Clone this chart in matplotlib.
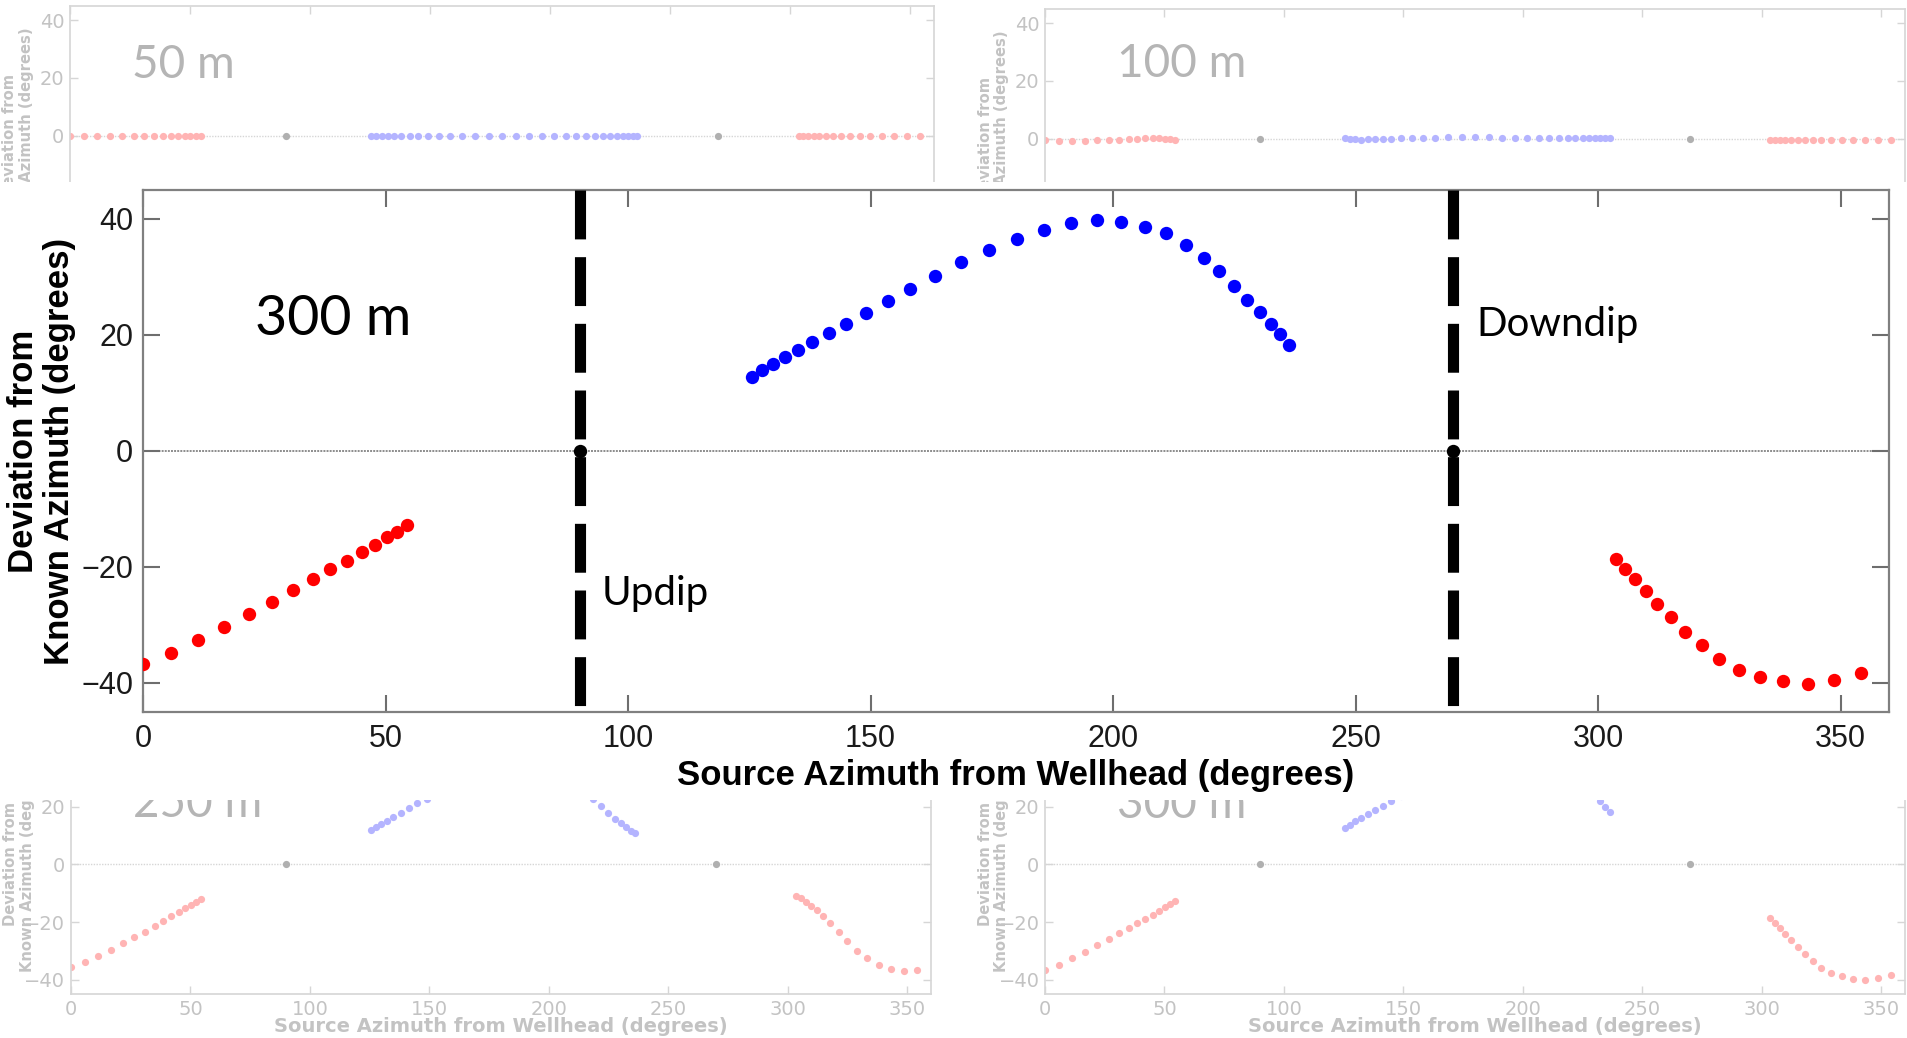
import matplotlib
matplotlib.use("Agg")
import matplotlib.pyplot as plt
from matplotlib.patches import Rectangle

# ==== Source azimuths (degrees from wellhead) ====
az_red_left = [0.0, 5.7, 11.3, 16.7, 21.8, 26.6, 30.9, 35.0, 38.6, 42.0, 45.1, 47.8, 50.2, 52.4, 54.5]
az_blue = [125.5, 127.7, 129.9, 132.3, 135.0, 138.0, 141.5, 145.0, 149.0, 153.6,
           158.2, 163.2, 168.7, 174.4, 180.1, 185.8, 191.3, 196.7, 201.7, 206.6,
           211.0, 215.0, 218.7, 221.9, 225.0, 227.7, 230.2, 232.5, 234.5, 236.3]
az_red_right = [303.6, 305.6, 307.6, 309.8, 312.2, 315.0, 317.9, 321.4, 324.9, 329.1,
                333.4, 338.2, 343.3, 348.6, 354.3]
az_ref = [90, 270]
dev_ref = [0, 0]

# ==== Deviation from known azimuth per receiver depth ====
dev50_red_left = [0.0, 0.0, 0.0, 0.0, 0.0, 0.0, 0.0, 0.0, 0.0, 0.0, 0.0, 0.0, 0.0, 0.0, 0.0]
dev50_blue = [0.0, 0.0, 0.0, 0.0, 0.0, 0.0, 0.0, 0.0, 0.0, 0.0, 0.0, 0.0, 0.0, 0.0, 0.0,
              0.0, 0.0, 0.0, 0.0, 0.0, 0.0, 0.0, 0.0, 0.0, 0.0, 0.0, 0.0, 0.0, 0.0, 0.0]
dev50_red_right = [0.0, 0.0, 0.0, 0.0, 0.0, 0.0, 0.0, 0.0, 0.0, 0.0, 0.0, 0.0, 0.0, 0.0, 0.0]

dev100_red_left = [-0.6, -0.7, -0.7, -0.7, -0.6, -0.5, -0.35, -0.25, 0.0, 0.1, 0.1, 0.1, 0.0, -0.1, -0.5]
dev100_blue = [0.2, 0.0, -0.25, -0.35, -0.25, -0.25, -0.1, 0.0, 0.25, 0.25, 0.35, 0.35, 0.45, 0.45, 0.6,
               0.5, 0.35, 0.35, 0.25, 0.25, 0.25, 0.25, 0.25, 0.25, 0.25, 0.25, 0.25, 0.25, 0.25, 0.25]
dev100_red_right = [-0.4, -0.4, -0.4, -0.4, -0.4, -0.4, -0.4, -0.4, -0.4, -0.5, -0.5, -0.5, -0.5, -0.5, -0.5]

dev250_red_left = [-35.5, -33.8, -31.9, -29.8, -27.4, -25.3, -23.3, -21.4, -19.5, -17.9,
                   -16.4, -15.1, -14.0, -12.9, -12.0]
dev250_blue = [12.0, 12.9, 14.0, 15.1, 16.4, 18.0, 19.5, 21.3, 22.9, 25.0,
               27.2, 29.3, 31.2, 32.6, 33.4, 33.5, 33.0, 31.8, 30.2, 28.4,
               26.6, 24.7, 22.7, 20.3, 18.0, 15.9, 14.3, 12.9, 11.7, 10.8]
dev250_red_right = [-10.9, -11.7, -12.9, -14.3, -15.9, -18.0, -20.5, -23.4, -26.5, -29.9,
                    -32.6, -34.9, -36.4, -37.0, -36.6]

dev300_red_left = [-36.8, -34.8, -32.6, -30.3, -28.1, -26.0, -23.9, -22.1, -20.3, -18.9,
                   -17.5, -16.2, -14.9, -13.9, -12.8]
dev300_blue = [12.8, 13.9, 15.0, 16.2, 17.4, 18.8, 20.3, 21.9, 23.8, 25.8,
               28.0, 30.2, 32.5, 34.6, 36.6, 38.1, 39.3, 39.8, 39.4, 38.6,
               37.5, 35.5, 33.2, 31.0, 28.4, 26.1, 24.0, 21.9, 20.1, 18.3]
dev300_red_right = [-18.6, -20.3, -22.1, -24.1, -26.3, -28.6, -31.2, -33.4, -35.8, -37.7,
                    -38.9, -39.7, -40.2, -39.5, -38.3]

x_ticks = [0, 50, 100, 150, 200, 250, 300, 350]
y_ticks = [-40, -20, 0, 20, 40]

XLABEL = "Source Azimuth from Wellhead (degrees)"
YLABEL = "Deviation from\nKnown Azimuth (degrees)"

FADE = "#c3c3c3"
NARROW = ["Liberation Sans Narrow", "DejaVu Sans"]


# ==== Small pale panel for one depth ====
def faded_panel(fig, rect, red_left, blue, red_right, label, label_xy):
    ax = fig.add_axes(rect)
    ax.set_zorder(0)
    ax.axhline(0, color="#d6d6d6", lw=1.0, ls=(0, (1, 1)), zorder=1)
    ax.plot(az_red_left, red_left, "o", color="#ffb4b4", ms=5.2, mec="none", zorder=2)
    ax.plot(az_blue, blue, "o", color="#b4b4ff", ms=5.2, mec="none", zorder=2)
    ax.plot(az_red_right, red_right, "o", color="#ffb4b4", ms=5.2, mec="none", zorder=2)
    ax.plot(az_ref, dev_ref, "o", color="#b0b0b0", ms=5.2, mec="none", zorder=2)
    ax.text(label_xy[0], label_xy[1], label, fontsize=33, family="Lato",
            color="#b5b5b5", va="baseline", ha="left")
    ax.set_xlim(0, 360)
    ax.set_ylim(-45, 45)
    ax.set_xticks(x_ticks)
    ax.set_yticks(y_ticks)
    ax.tick_params(direction="in", top=True, right=True, length=6, width=1,
                   color="#d6d6d6", labelcolor=FADE, labelsize=14, pad=4)
    for t in ax.get_xticklabels() + ax.get_yticklabels():
        t.set_family(NARROW)
    for s in ax.spines.values():
        s.set_color("#d6d6d6")
        s.set_linewidth(1.2)
    ax.set_xlabel(XLABEL, fontsize=14, fontweight="bold", color=FADE,
                  family=NARROW, va="center")
    ax.xaxis.set_label_coords(0.5, -0.127)
    ax.set_ylabel(YLABEL, fontsize=10.6, fontweight="bold", color=FADE,
                  family="DejaVu Sans", va="center", linespacing=1.15)
    ax.yaxis.set_label_coords(-0.06, 0.5)
    return ax


fig = plt.figure(figsize=(19.07, 10.38), dpi=100)

faded_panel(fig, [0.0367, 0.7447, 0.4531, 0.2495],
            dev50_red_left, dev50_blue, dev50_red_right, "50 m", (26, 20))
faded_panel(fig, [0.548, 0.7418, 0.451, 0.2495],
            dev100_red_left, dev100_blue, dev100_red_right, "100 m", (30, 21.5))
faded_panel(fig, [0.0372, 0.0424, 0.451, 0.2495],
            dev250_red_left, dev250_blue, dev250_red_right, "250 m", (26, 16.4))
faded_panel(fig, [0.548, 0.0424, 0.451, 0.2495],
            dev300_red_left, dev300_blue, dev300_red_right, "300 m", (30, 16))

# white backing behind the enlarged 300 m panel
fig.add_artist(Rectangle((0, 0.2293), 1, 0.5954, transform=fig.transFigure,
                         facecolor="white", edgecolor="none", zorder=2))

# ==== Enlarged 300 m panel ====
ax = fig.add_axes([0.075, 0.3141, 0.9156, 0.5029])
ax.set_zorder(3)
ax.axhline(0, color="#8c8c8c", lw=1.4, ls=(0, (1, 0.6)), zorder=1)
ax.plot(az_red_left, dev300_red_left, "o", color="#ff0000", ms=9.6, mec="none", zorder=3)
ax.plot(az_blue, dev300_blue, "o", color="#0000ff", ms=9.6, mec="none", zorder=3)
ax.plot(az_red_right, dev300_red_right, "o", color="#ff0000", ms=9.6, mec="none", zorder=3)
ax.plot(az_ref, dev_ref, "o", color="black", ms=9.6, mec="none", zorder=3)

# updip / downdip directions
for a in az_ref:
    ax.plot([a, a], [45, -46], color="black", lw=8, ls=(0, (4.4, 1.6)),
            solid_capstyle="butt", dash_capstyle="butt", zorder=4)

ax.text(23, 20, "300 m", fontsize=40, family="Lato", va="baseline", ha="left")
ax.text(94.6, -26.5, "Updip", fontsize=29, family="Lato", va="baseline", ha="left")
ax.text(275, 19.8, "Downdip", fontsize=29, family="Lato", va="baseline", ha="left")

ax.set_xlim(0, 360)
ax.set_ylim(-45, 45)
ax.set_xticks(x_ticks)
ax.set_yticks(y_ticks)
ax.tick_params(direction="in", top=True, right=True, length=12, width=1.5,
               color="#6e6e6e", labelsize=22, labelcolor="#1a1a1a")
ax.tick_params(axis="x", pad=9)
ax.tick_params(axis="y", pad=7)
for t in ax.get_xticklabels() + ax.get_yticklabels():
    t.set_family("Liberation Sans")
for s in ax.spines.values():
    s.set_color("#808080")
    s.set_linewidth(1.6)

ax.set_xlabel(XLABEL, fontsize=25, fontweight="bold", family="Liberation Sans", va="center")
ax.xaxis.set_label_coords(0.5, -0.121)
ax.set_ylabel(YLABEL, fontsize=25, fontweight="bold", family="Liberation Sans",
              va="center", linespacing=1.1)
ax.yaxis.set_label_coords(-0.058, 0.5)

fig.savefig("out.png", dpi=100)
